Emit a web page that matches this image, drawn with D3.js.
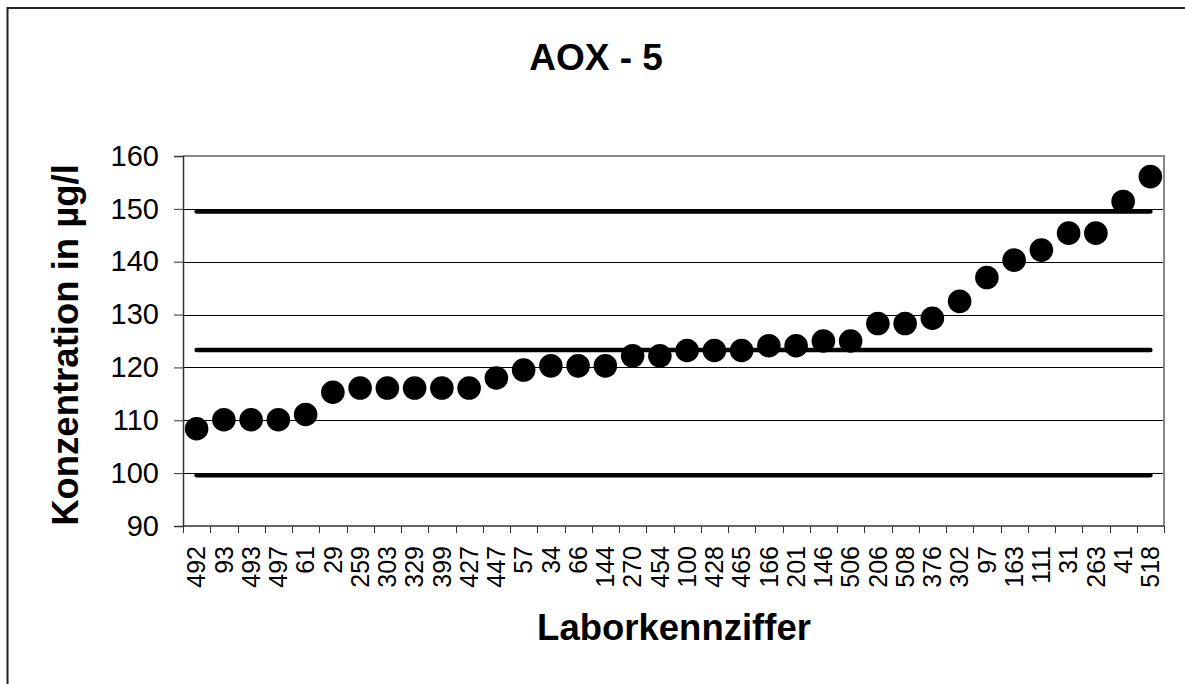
<!DOCTYPE html>
<html>
<head>
<meta charset="utf-8">
<script src="https://cdn.jsdelivr.net/npm/d3@7"></script>
<style>
  html, body { margin: 0; background: #fff; overflow: hidden; }
  svg { display: block; }
  text { font-family: Arial, "Liberation Sans", sans-serif; fill: #000; }
</style>
</head>
<body>
<script>
// lab codes, sorted by measured value
const labs = ['492', '93', '493', '497', '61', '29', '259', '303', '329', '399',
  '427', '447', '57', '34', '66', '144', '270', '454', '100', '428', '465',
  '166', '201', '146', '506', '206', '508', '376', '302', '97', '163', '111',
  '31', '263', '41', '518'];
// AOX concentration in µg/l
const values = [108.4, 110.1, 110.1, 110.1, 111.1, 115.3, 116.1, 116.1, 116.1,
  116.1, 116.1, 118.0, 119.5, 120.3, 120.3, 120.3, 122.2, 122.2, 123.2, 123.2,
  123.2, 124.1, 124.1, 125.0, 125.0, 128.3, 128.3, 129.3, 132.5, 137.0, 140.3,
  142.2, 145.4, 145.4, 151.4, 156.1];
// upper tolerance limit, assigned value, lower tolerance limit
const refLines = [149.5, 123.3, 99.6];
const yTicks = [90, 100, 110, 120, 130, 140, 150, 160];

const width = 1185;
const height = 684;
const plot = { left: 183, right: 1164, top: 156, bottom: 526 };

const svg = d3.select('body')
  .append('svg')
  .attr('width', width)
  .attr('height', height);

// outer chart frame (runs off the right and bottom edge)
svg.append('path')
  .attr('d', `M7.5,${height + 10}V8H${width + 10}`)
  .attr('fill', 'none')
  .attr('stroke', '#222')
  .attr('stroke-width', 2);

const x = d3.scaleBand()
  .domain(labs)
  .range([plot.left, plot.right]);

const y = d3.scaleLinear()
  .domain([90, 160])
  .range([plot.bottom, plot.top]);

// gridlines
svg.append('g')
  .selectAll('line')
  .data(yTicks.filter((t) => t > 90 && t < 160))
  .join('line')
  .attr('x1', plot.left)
  .attr('x2', plot.right)
  .attr('y1', (d) => Math.round(y(d)) + 0.5)
  .attr('y2', (d) => Math.round(y(d)) + 0.5)
  .attr('stroke', '#000')
  .attr('stroke-width', 1);

// plot frame: top and right gray
svg.append('path')
  .attr('d', `M${plot.left},${plot.top}H${plot.right}V${plot.bottom}`)
  .attr('fill', 'none')
  .attr('stroke', '#888')
  .attr('stroke-width', 2);

// y axis
const yAxis = svg.append('g')
  .attr('transform', `translate(${plot.left},0)`)
  .call(d3.axisLeft(y).tickValues(yTicks).tickSize(9).tickPadding(15));
yAxis.select('.domain').attr('stroke', '#333').attr('stroke-width', 1.5);
yAxis.selectAll('.tick line').attr('stroke', '#333');
yAxis.selectAll('.tick text')
  .attr('font-size', 29)
  .attr('font-family', 'Arial, "Liberation Sans", sans-serif')
  .attr('fill', '#000');

// x axis, ticks between categories
const xAxis = svg.append('g')
  .attr('transform', `translate(0,${plot.bottom})`);
xAxis.append('line')
  .attr('x1', plot.left)
  .attr('x2', plot.right)
  .attr('stroke', '#333')
  .attr('stroke-width', 1.5);
xAxis.selectAll('.sep')
  .data(labs.concat(['end']))
  .join('line')
  .attr('class', 'sep')
  .attr('x1', (d, i) => Math.round(plot.left + i * x.bandwidth()) + 0.5)
  .attr('x2', (d, i) => Math.round(plot.left + i * x.bandwidth()) + 0.5)
  .attr('y1', 0)
  .attr('y2', 7)
  .attr('stroke', '#333');
xAxis.selectAll('text')
  .data(labs)
  .join('text')
  .attr('transform', (d) => `translate(${x(d) + x.bandwidth() / 2},20) rotate(-90)`)
  .attr('text-anchor', 'end')
  .attr('dy', '0.35em')
  .attr('font-size', 25)
  .text((d) => d);

// reference lines
const xFirst = x(labs[0]) + x.bandwidth() / 2;
const xLast = x(labs[labs.length - 1]) + x.bandwidth() / 2;
svg.append('g')
  .selectAll('line')
  .data(refLines)
  .join('line')
  .attr('x1', xFirst)
  .attr('x2', xLast)
  .attr('y1', (d) => y(d))
  .attr('y2', (d) => y(d))
  .attr('stroke', '#000')
  .attr('stroke-width', 4.5)
  .attr('stroke-linecap', 'round');

// lab results
svg.append('g')
  .selectAll('circle')
  .data(values)
  .join('circle')
  .attr('cx', (d, i) => x(labs[i]) + x.bandwidth() / 2)
  .attr('cy', (d) => y(d))
  .attr('r', 11.8)
  .attr('fill', '#000');

// titles
svg.append('text')
  .attr('x', 596)
  .attr('y', 70)
  .attr('text-anchor', 'middle')
  .attr('font-size', 37)
  .attr('font-weight', 'bold')
  .text('AOX - 5');

svg.append('text')
  .attr('transform', 'translate(78,345) rotate(-90)')
  .attr('text-anchor', 'middle')
  .attr('font-size', 36.5)
  .attr('font-weight', 'bold')
  .text('Konzentration in µg/l');

svg.append('text')
  .attr('x', 674)
  .attr('y', 640)
  .attr('text-anchor', 'middle')
  .attr('font-size', 36.5)
  .attr('font-weight', 'bold')
  .text('Laborkennziffer');
</script>
</body>
</html>
